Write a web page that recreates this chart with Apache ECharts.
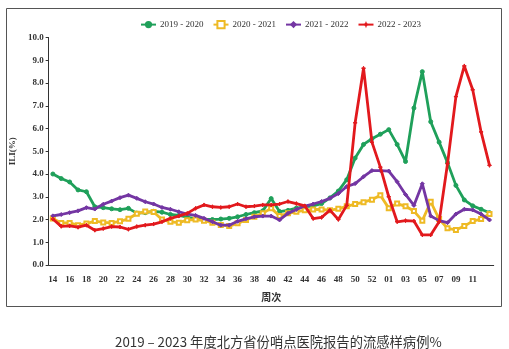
<!DOCTYPE html>
<html>
<head>
<meta charset="utf-8">
<script src="https://cdn.jsdelivr.net/npm/echarts@6/dist/echarts.min.js"></script>
<style>html,body{margin:0;padding:0;background:#fff;}#c{width:509px;height:349px;}</style>
</head>
<body>
<div id="c"></div>
<script>
const weeks = ['14','15','16','17','18','19','20','21','22','23','24','25','26','27','28','29','30','31','32','33','34','35','36','37','38','39','40','41','42','43','44','45','46','47','48','49','50','51','52','53','01','02','03','04','05','06','07','08','09','10','11','12','13'];
const seriesNames = ['2019 - 2020','2020 - 2021','2021 - 2022','2022 - 2023'];
const s2019 = [4.0,3.8,3.65,3.3,3.22,2.56,2.52,2.47,2.43,2.49,2.28,2.3,2.36,2.32,2.22,2.18,2.1,2.03,2.0,2.0,2.02,2.05,2.12,2.22,2.3,2.38,2.92,2.35,2.4,2.5,2.55,2.6,2.7,2.95,3.25,3.75,4.7,5.3,5.55,5.75,5.95,5.3,4.55,6.9,8.5,6.3,5.4,4.5,3.5,2.86,2.6,2.45,2.3];
const s2020 = [2.04,1.85,1.85,1.75,1.82,1.93,1.87,1.85,1.92,2.03,2.25,2.35,2.33,2.0,1.9,1.86,1.97,2.0,1.95,1.86,1.76,1.71,1.83,1.98,2.12,2.27,2.5,2.15,2.27,2.34,2.41,2.44,2.44,2.41,2.47,2.58,2.68,2.76,2.87,3.07,2.5,2.7,2.58,2.37,1.95,2.78,2.02,1.61,1.54,1.71,1.93,2.02,2.24];
const s2021 = [2.16,2.22,2.3,2.38,2.52,2.46,2.67,2.81,2.96,3.07,2.93,2.78,2.68,2.53,2.45,2.34,2.24,2.18,2.05,1.9,1.75,1.75,1.92,2.03,2.12,2.15,2.15,1.98,2.27,2.44,2.59,2.68,2.79,2.93,3.14,3.45,3.58,3.88,4.15,4.15,4.13,3.66,3.1,2.62,3.57,2.15,1.95,1.86,2.24,2.45,2.42,2.24,1.98];
const s2022 = [2.02,1.7,1.72,1.66,1.75,1.53,1.6,1.69,1.67,1.57,1.69,1.75,1.8,1.9,2.05,2.15,2.27,2.49,2.64,2.56,2.53,2.56,2.68,2.56,2.59,2.64,2.64,2.68,2.79,2.7,2.6,2.04,2.09,2.41,2.0,2.62,6.25,8.65,5.4,4.3,3.0,1.9,1.95,1.93,1.32,1.32,1.9,4.45,7.4,8.75,7.7,5.85,4.38];
const yTicks = [0,1,2,3,4,5,6,7,8,9,10];
const titleText = '2019 – 2023 年度北方省份哨点医院报告的流感样病例%';

const colors = ['#1fa05a','#eeba25','#7436a3','#e2191d'];
const symbols = ['circle','emptyRect','diamond','path://M0,-10 L2.8,-2.8 L10,0 L2.8,2.8 L0,10 L-2.8,2.8 L-10,0 L-2.8,-2.8 Z'];
const allData = [s2019,s2020,s2021,s2022];
const serif = '"Liberation Serif","DejaVu Serif",serif';

const chart = echarts.init(document.getElementById('c'), null, {renderer:'canvas'});
chart.setOption({
  animation:false,
  backgroundColor:'#fff',
  color: colors,
  title:{
    text:titleText, left:110, top:330,
    textStyle:{fontFamily:'"Noto Sans CJK SC","Noto Sans",sans-serif', fontSize:13.3, fontWeight:'normal', color:'#333'}
  },
  graphic:[{type:'rect', shape:{x:6.5,y:8.5,width:495,height:298}, style:{fill:'none', stroke:'#555', lineWidth:1}, silent:true, z:-1}],
  legend:{
    left:135, top:15, itemWidth:15, itemHeight:9, itemGap:9,
    data:seriesNames,
    textStyle:{fontFamily:serif, fontSize:9, color:'#333', padding:[0,0,0,-1]}
  },
  grid:{left:43.75, right:15.3, top:37.5, bottom:84, containLabel:false},
  xAxis:{
    type:'category', data:weeks, boundaryGap:true,
    name:'周次', nameLocation:'middle', nameGap:27,
    nameTextStyle:{fontFamily:'"Noto Sans CJK SC",sans-serif', fontSize:10, fontWeight:'bold', color:'#333'},
    axisLine:{lineStyle:{color:'#333', width:1}},
    axisTick:{interval:0, length:3, lineStyle:{color:'#333'}},
    axisLabel:{interval:function(i){return i%2===0 && i<=50;}, margin:10, fontFamily:serif, fontSize:9, fontWeight:'bold', color:'#333'},
    splitLine:{show:false}
  },
  yAxis:{
    type:'value', min:yTicks[0], max:yTicks[yTicks.length-1], interval:1,
    name:'ILI(%)', nameLocation:'middle', nameGap:24, nameRotate:90,
    nameTextStyle:{fontFamily:serif, fontSize:9, fontWeight:'bold', color:'#333'},
    axisLine:{show:true, lineStyle:{color:'#333', width:1}},
    axisTick:{show:true, length:3, lineStyle:{color:'#333'}},
    axisLabel:{margin:5, fontFamily:serif, fontSize:9, fontWeight:'bold', color:'#333', formatter:function(v){return v.toFixed(1);}},
    splitLine:{show:false}
  },
  series: allData.map(function(d,k){
    return {
      name:seriesNames[k], type:'line', data:d,
      symbol:symbols[k], symbolSize:4, showSymbol:true,
      lineStyle:{width:2.8, color:colors[k]},
      itemStyle:{color:colors[k], borderColor:colors[k]},
      z:2+k
    };
  })
});
</script>
</body>
</html>
